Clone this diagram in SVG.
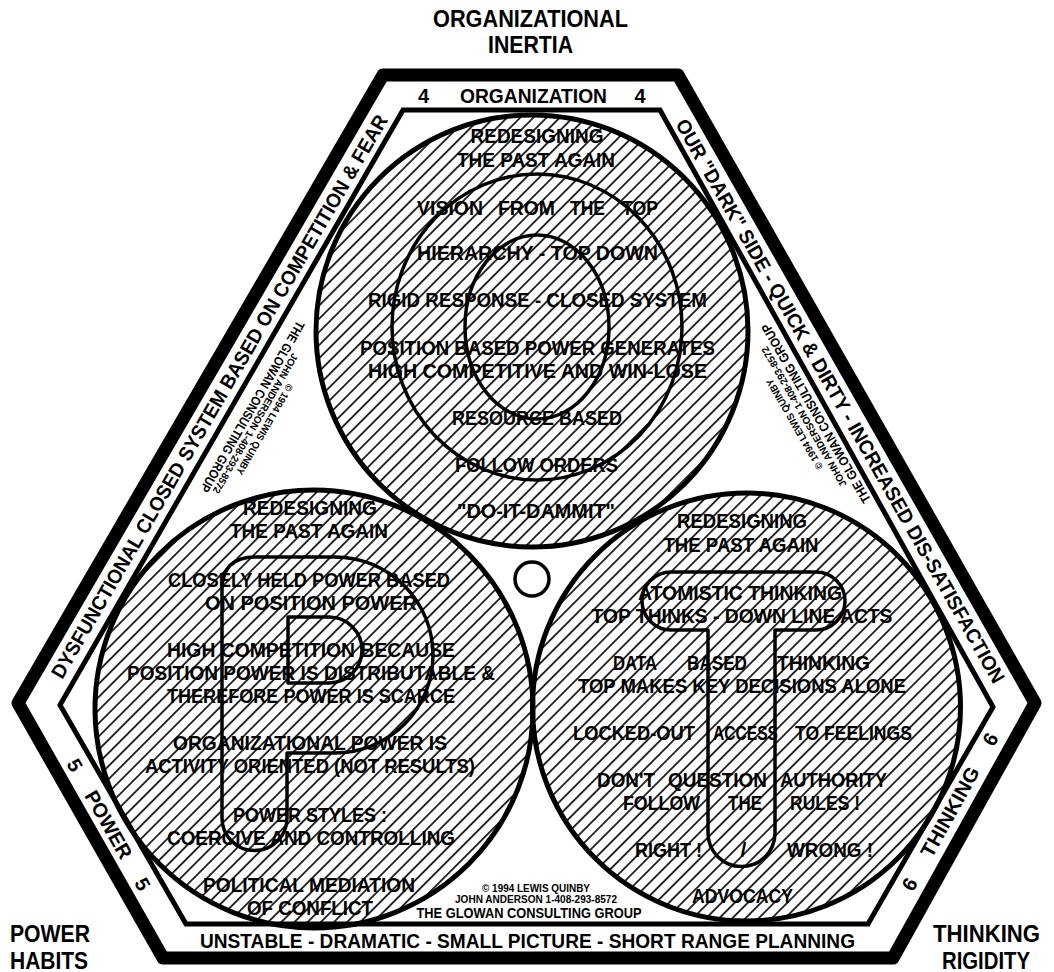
<svg xmlns="http://www.w3.org/2000/svg" width="1054" height="972" viewBox="0 0 1054 972">
<style>
.t{font-family:"Liberation Sans",Arial,sans-serif;font-weight:bold;fill:#000}
.c{text-anchor:middle}
.in{font-size:21px}
.band{font-size:20px}
.lab{font-size:23px}
.sm{font-size:10px}
.md{font-size:13px}
.ring{fill:url(#hatch);stroke:#000;stroke-width:5}
.letter{fill:none;stroke:#000;stroke-width:3.5;stroke-linejoin:round}
</style>
<defs>
<pattern id="hatch" patternUnits="userSpaceOnUse" width="9.3" height="9.3" patternTransform="rotate(45)">
<line x1="4.65" y1="-1" x2="4.65" y2="10.3" stroke="#000" stroke-width="1.6"/>
</pattern>
</defs>
<rect width="1054" height="972" fill="#fff"/>

<g id="corner-labels" class="t lab c">
<text x="530.5" y="27" textLength="195" lengthAdjust="spacingAndGlyphs">ORGANIZATIONAL</text>
<text x="530.5" y="53" textLength="85" lengthAdjust="spacingAndGlyphs">INERTIA</text>
<text x="50" y="942" textLength="80" lengthAdjust="spacingAndGlyphs">POWER</text>
<text x="49" y="969" textLength="78" lengthAdjust="spacingAndGlyphs">HABITS</text>
<text x="986.5" y="942" textLength="107" lengthAdjust="spacingAndGlyphs">THINKING</text>
<text x="986" y="969" textLength="88" lengthAdjust="spacingAndGlyphs">RIGIDITY</text>
</g>

<g id="frame">
<polygon points="383,75 678,75 1035,703 893,958 163,958 18,703" fill="#fff" stroke="#000" stroke-width="13" stroke-linejoin="round"/>
<polygon points="403,110 660,110 993,707 868,924 186,924 60,705" fill="none" stroke="#000" stroke-width="5" stroke-linejoin="miter"/>
</g>

<g id="band-labels" class="t band c">
<text x="423.5" y="103">4</text>
<text x="533.5" y="103" textLength="147" lengthAdjust="spacingAndGlyphs">ORGANIZATION</text>
<text x="640" y="103">4</text>
<text x="527.5" y="948" textLength="655" lengthAdjust="spacingAndGlyphs">UNSTABLE - DRAMATIC - SMALL PICTURE - SHORT RANGE PLANNING</text>
<text transform="translate(225.3,400) rotate(-59.8)" textLength="648" lengthAdjust="spacingAndGlyphs">DYSFUNCTIONAL CLOSED SYSTEM BASED ON COMPETITION &amp; FEAR</text>
<text transform="translate(834.2,404.5) rotate(60.4)" textLength="645" lengthAdjust="spacingAndGlyphs">OUR "DARK" SIDE - QUICK &amp; DIRTY - INCREASED DIS-SATISFACTION</text>
<g transform="translate(102.6,828.1) rotate(60.4)">
<text x="-68.5" y="0">5</text>
<text x="0" y="0" textLength="75" lengthAdjust="spacingAndGlyphs">POWER</text>
<text x="68.5" y="0">5</text>
</g>
<g transform="translate(956.1,815.2) rotate(-60.9)">
<text x="-83" y="0">6</text>
<text x="0" y="0" textLength="100" lengthAdjust="spacingAndGlyphs">THINKING</text>
<text x="83" y="0">6</text>
</g>
</g>

<g id="circle-organization">
<circle class="ring" cx="532" cy="331" r="216"/>
</g>
<g id="circle-power">
<circle class="ring" cx="314" cy="709" r="219"/>
</g>
<g id="circle-thinking">
<circle class="ring" cx="746.5" cy="707" r="214"/>
</g>

<g id="letter-o">
<ellipse class="letter" cx="537" cy="327" rx="145" ry="153" stroke-width="4"/>
<ellipse class="letter" cx="537" cy="327" rx="72" ry="92" stroke-width="4"/>
</g>
<g id="letter-p">
<path class="letter" d="M222,818 V590 Q222,557 255,557 H335 A98,98 0 0 1 335,753 H287 V818 A32.5,32.5 0 0 1 222,818 Z"/>
<path class="letter" d="M288,617 H329 A33,33 0 0 1 329,683 H288 Z"/>
</g>
<g id="letter-t">
<path class="letter" d="M671,572 H816 A29,29 0 0 1 816,630 H775 V833 A33.5,33.5 0 0 1 708,833 V630 H671 A29,29 0 0 1 671,572 Z"/>
</g>
<g id="center-dot">
<circle cx="532" cy="579" r="17" fill="#fff" stroke="#000" stroke-width="3.5"/>
</g>

<g id="text-organization" class="t in c">
<text x="537" y="143" textLength="133" lengthAdjust="spacingAndGlyphs">REDESIGNING</text>
<text x="536" y="167" textLength="158" lengthAdjust="spacingAndGlyphs">THE PAST AGAIN</text>
<text x="450" y="215" textLength="66" lengthAdjust="spacingAndGlyphs">VISION</text>
<text x="526.5" y="215" textLength="57" lengthAdjust="spacingAndGlyphs">FROM</text>
<text x="587.5" y="215" textLength="35" lengthAdjust="spacingAndGlyphs">THE</text>
<text x="640" y="215" textLength="36" lengthAdjust="spacingAndGlyphs">TOP</text>
<text x="537.5" y="260" textLength="241" lengthAdjust="spacingAndGlyphs">HIERARCHY - TOP DOWN</text>
<text x="537.5" y="307" textLength="339" lengthAdjust="spacingAndGlyphs">RIGID RESPONSE - CLOSED SYSTEM</text>
<text x="537.5" y="355" textLength="355" lengthAdjust="spacingAndGlyphs">POSITION BASED POWER GENERATES</text>
<text x="537.5" y="378" textLength="339" lengthAdjust="spacingAndGlyphs">HIGH COMPETITIVE AND WIN-LOSE</text>
<text x="537" y="425" textLength="170" lengthAdjust="spacingAndGlyphs">RESOURCE BASED</text>
<text x="536.5" y="472" textLength="163" lengthAdjust="spacingAndGlyphs">FOLLOW ORDERS</text>
<text x="536" y="518" textLength="158" lengthAdjust="spacingAndGlyphs">"DO-IT-DAMMIT"</text>
</g>

<g id="text-power" class="t in c">
<text x="310" y="515" textLength="134" lengthAdjust="spacingAndGlyphs">REDESIGNING</text>
<text x="309" y="538" textLength="158" lengthAdjust="spacingAndGlyphs">THE PAST AGAIN</text>
<text x="309" y="587" textLength="282" lengthAdjust="spacingAndGlyphs">CLOSELY HELD POWER BASED</text>
<text x="311" y="610" textLength="212" lengthAdjust="spacingAndGlyphs">ON POSITION POWER</text>
<text x="311" y="657" textLength="288" lengthAdjust="spacingAndGlyphs">HIGH COMPETITION BECAUSE</text>
<text x="311" y="680" textLength="368" lengthAdjust="spacingAndGlyphs">POSITION POWER IS DISTRIBUTABLE &amp;</text>
<text x="311" y="703" textLength="288" lengthAdjust="spacingAndGlyphs">THEREFORE POWER IS SCARCE</text>
<text x="310" y="750" textLength="274" lengthAdjust="spacingAndGlyphs">ORGANIZATIONAL POWER IS</text>
<text x="310" y="773" textLength="330" lengthAdjust="spacingAndGlyphs">ACTIVITY ORIENTED (NOT RESULTS)</text>
<text x="310" y="822" textLength="154" lengthAdjust="spacingAndGlyphs">POWER STYLES :</text>
<text x="311" y="845" textLength="288" lengthAdjust="spacingAndGlyphs">COERCIVE AND CONTROLLING</text>
<text x="309" y="892" textLength="212" lengthAdjust="spacingAndGlyphs">POLITICAL MEDIATION</text>
<text x="310" y="915" textLength="126" lengthAdjust="spacingAndGlyphs">OF CONFLICT</text>
</g>

<g id="text-thinking" class="t in c">
<text x="742" y="528" textLength="130" lengthAdjust="spacingAndGlyphs">REDESIGNING</text>
<text x="741" y="552" textLength="155" lengthAdjust="spacingAndGlyphs">THE PAST AGAIN</text>
<text x="740" y="600" textLength="204" lengthAdjust="spacingAndGlyphs">ATOMISTIC THINKING</text>
<text x="742" y="623" textLength="301" lengthAdjust="spacingAndGlyphs">TOP THINKS - DOWN LINE ACTS</text>
<text x="635" y="670" textLength="44" lengthAdjust="spacingAndGlyphs">DATA</text>
<text x="717" y="670" textLength="60" lengthAdjust="spacingAndGlyphs">BASED</text>
<text x="823.5" y="670" textLength="93" lengthAdjust="spacingAndGlyphs">THINKING</text>
<text x="742" y="693" textLength="328" lengthAdjust="spacingAndGlyphs">TOP MAKES KEY DECISIONS ALONE</text>
<text x="634" y="740" textLength="122" lengthAdjust="spacingAndGlyphs">LOCKED-OUT</text>
<text x="745.5" y="740" textLength="65" lengthAdjust="spacingAndGlyphs">ACCESS</text>
<text x="853.5" y="740" textLength="117" lengthAdjust="spacingAndGlyphs">TO FEELINGS</text>
<text x="626" y="787" textLength="58" lengthAdjust="spacingAndGlyphs">DON'T</text>
<text x="717.5" y="787" textLength="99" lengthAdjust="spacingAndGlyphs">QUESTION</text>
<text x="833.5" y="787" textLength="107" lengthAdjust="spacingAndGlyphs">AUTHORITY</text>
<text x="661.5" y="810" textLength="77" lengthAdjust="spacingAndGlyphs">FOLLOW</text>
<text x="745" y="810" textLength="34" lengthAdjust="spacingAndGlyphs">THE</text>
<text x="825" y="810" textLength="70" lengthAdjust="spacingAndGlyphs">RULES !</text>
<text x="668.5" y="857" textLength="67" lengthAdjust="spacingAndGlyphs">RIGHT !</text>
<text x="743.5" y="857">/</text>
<text x="830" y="857" textLength="86" lengthAdjust="spacingAndGlyphs">WRONG !</text>
<text x="742.5" y="903" textLength="101" lengthAdjust="spacingAndGlyphs">ADVOCACY</text>
</g>

<g id="copyright-bottom" class="t c">
<text class="sm" x="536" y="892" textLength="108" lengthAdjust="spacingAndGlyphs">© 1994 LEWIS QUINBY</text>
<text class="sm" x="536" y="903" textLength="162" lengthAdjust="spacingAndGlyphs">JOHN ANDERSON 1-408-293-8572</text>
<text x="529" y="918" font-size="14" textLength="225" lengthAdjust="spacingAndGlyphs">THE GLOWAN CONSULTING GROUP</text>
</g>
<g id="copyright-left" class="t c">
<text class="md" transform="translate(248.6,404.5) rotate(120)" textLength="195" lengthAdjust="spacingAndGlyphs">THE GLOWAN CONSULTING GROUP</text>
<text class="sm" transform="translate(252.4,421.8) rotate(120)" textLength="160" lengthAdjust="spacingAndGlyphs">JOHN ANDERSON 1-408-293-8572</text>
<text class="sm" transform="translate(261.7,427.7) rotate(120)" textLength="103" lengthAdjust="spacingAndGlyphs">© 1994 LEWIS QUINBY</text>
</g>
<g id="copyright-right" class="t c">
<text class="md" transform="translate(819.9,411.1) rotate(-120)" textLength="205" lengthAdjust="spacingAndGlyphs">THE GLOWAN CONSULTING GROUP</text>
<text class="sm" transform="translate(807.1,415) rotate(-120)" textLength="160" lengthAdjust="spacingAndGlyphs">JOHN ANDERSON 1-408-293-8572</text>
<text class="sm" transform="translate(797.7,422.7) rotate(-120)" textLength="103" lengthAdjust="spacingAndGlyphs">© 1994 LEWIS QUINBY</text>
</g>
</svg>
